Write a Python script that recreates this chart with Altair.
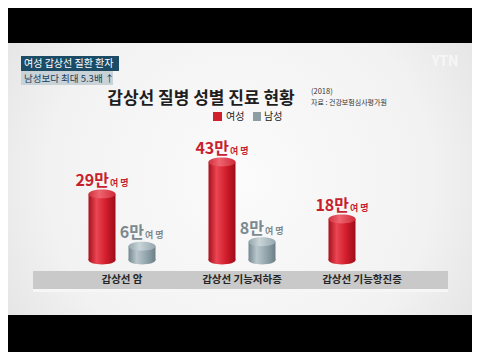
import altair as alt
import pandas as pd

# ---- data ----
categories = ["갑상선 암", "갑상선 기능저하증", "갑상선 기능항진증"]
female = [29, 43, 18]          # 만여 명
male = [6, 8, None]            # 만여 명 (no value shown for 기능항진증)
sexes = ["여성", "남성"]
unit_small = "여 명"

title_text = "갑상선 질병 성별 진료 현황"
year_text = "(2018)"
source_text = "자료 : 건강보험심사평가원"
caption1 = "여성 갑상선 질환 환자"
caption2 = "남성보다 최대 5.3배 ↑"
logo_text = "YTN"

rows = []
for c, f, m in zip(categories, female, male):
    rows.append({"cat": c, "sex": "여성", "value": f})
    if m is not None:
        rows.append({"cat": c, "sex": "남성", "value": m})
df = pd.DataFrame(rows)
cat_df = pd.DataFrame({"cat": categories})
one = pd.DataFrame({"k": [0]})

FONT = "Noto Sans CJK KR"
W, H = 464, 344

xs = alt.Scale(domain=categories, range=[54, 414], paddingInner=0, paddingOuter=0)
xo = alt.Scale(domain=sexes, paddingInner=0.325, paddingOuter=0.6625)
ys = alt.Scale(domain=[0, 50], range=[252, 138])

ELLIPSE = "M-1,0 A1,0.33 0 1,1 1,0 A1,0.33 0 1,1 -1,0 Z"


def grad(stops):
    return alt.LinearGradient(
        gradient="linear",
        stops=[alt.GradientStop(color=c, offset=o) for o, c in stops],
        x1=0, x2=1, y1=0, y2=0,
    )


red_body = grad([(0, "#a80f1c"), (0.3, "#ea4653"), (0.65, "#d21d2c"), (1, "#9c0d19")])
red_top = grad([(0, "#d0303d"), (0.4, "#ef6470"), (1, "#cf2a38")])
gray_body = grad([(0, "#74878f"), (0.3, "#b9c7cc"), (0.65, "#93a6ad"), (1, "#6c7f87")])
gray_top = grad([(0, "#93a5ac"), (0.4, "#c9d5d9"), (1, "#95a7ae")])


def enc(ch, yfield="value"):
    return ch.encode(
        x=alt.X("cat:N", scale=xs, axis=None),
        xOffset=alt.XOffset("sex:N", scale=xo),
        y=alt.Y(f"{yfield}:Q", scale=ys, axis=None),
    )


def cylinder(sex, body, top, color_txt, dx_big):
    base = alt.Chart(df).transform_filter(alt.datum.sex == sex).transform_calculate(
        zero="0", big="datum.value + '만'", small=f"'{unit_small}'"
    )
    bottom = enc(base.mark_point(shape=ELLIPSE, size=729, filled=True, fill=body,
                                 opacity=1, strokeWidth=0), "zero")
    bar = enc(base.mark_bar(fill=body))
    cap = enc(base.mark_point(shape=ELLIPSE, size=729, filled=True, fill=top,
                              opacity=1, strokeWidth=0))
    big = enc(base.mark_text(font=FONT, fontSize=16, fontWeight="bold", color=color_txt,
                             align="right", baseline="alphabetic", dx=dx_big, dy=-8)).encode(text="big:N")
    small = enc(base.mark_text(font=FONT, fontSize=9, fontWeight="bold", color=color_txt,
                               align="left", baseline="alphabetic", dx=dx_big + 1, dy=-8)).encode(text="small:N")
    return [bottom, bar, cap, big, small]


def rect(x, x2, y, y2, fill):
    return alt.Chart(one).mark_rect(fill=fill, strokeWidth=0).encode(
        x=alt.value(x), x2=alt.value(x2), y=alt.value(y), y2=alt.value(y2))


def label(x, y, s, size, color, align="left", weight="normal", baseline="middle", opacity=1):
    return alt.Chart(one).mark_text(text=s, font=FONT, fontSize=size, color=color, align=align,
                                    fontWeight=weight, baseline=baseline, opacity=opacity).encode(
        x=alt.value(x), y=alt.value(y))


stage = alt.RadialGradient(
    gradient="radial",
    stops=[alt.GradientStop(color="#fbfbfb", offset=0), alt.GradientStop(color="#f2f2f2", offset=0.55),
           alt.GradientStop(color="#d9d9d9", offset=1)],
    x1=0.5, y1=0.5, r1=0, x2=0.5, y2=0.5, r2=0.75,
)

layers = [
    alt.Chart(one).mark_rect(fill=stage, strokeWidth=0).encode(
        x=alt.value(0), x2=alt.value(W), y=alt.value(35), y2=alt.value(307)),
    rect(0, W, 0, 35, "#000000"),
    rect(0, W, 307, H, "#000000"),
    # category band
    rect(25, 440, 263, 281, "#c9c9c9"),
    rect(25, 440, 281, 284, "#f6f6f6"),
    # caption boxes
    rect(13, 111, 48, 63, "#1c4b66"),
    rect(13, 105, 63, 77, "#c8d2d7"),
    label(16, 56, caption1, 10, "#ffffff"),
    label(16, 70.5, caption2, 9.5, "#1d3f5c"),
    label(437, 54, logo_text, 14, "#ffffff", align="center", weight="bold", opacity=0.6),
    # title block
    label(193, 96, title_text, 17, "#1e1e1e", align="center", weight="bold", baseline="alphabetic"),
    label(303, 86, year_text, 7.5, "#333333", baseline="alphabetic"),
    label(303, 97, source_text, 7, "#333333", baseline="alphabetic"),
    # legend
    rect(205, 214, 104, 113, "#d0202e"),
    label(218, 109, sexes[0], 10, "#222222"),
    rect(245, 253, 104, 113, "#8c9da4"),
    label(256, 109, sexes[1], 10, "#222222"),
]

layers += cylinder("여성", red_body, red_top, "#c81f2d", 7)
layers += cylinder("남성", gray_body, gray_top, "#7c8a90", 2)

layers.append(
    alt.Chart(cat_df).mark_text(font=FONT, fontSize=10.5, fontWeight="bold", color="#262626",
                                baseline="middle").encode(
        x=alt.X("cat:N", scale=xs, axis=None), y=alt.value(272), text="cat:N")
)

chart = alt.layer(*layers).properties(
    width=W, height=H, padding=0,
    autosize=alt.AutoSizeParams(type="none"),
    background="#e6e6e6",
).configure_view(stroke=None)

chart.save("out.html", embed_options={"renderer": "svg", "actions": False})
